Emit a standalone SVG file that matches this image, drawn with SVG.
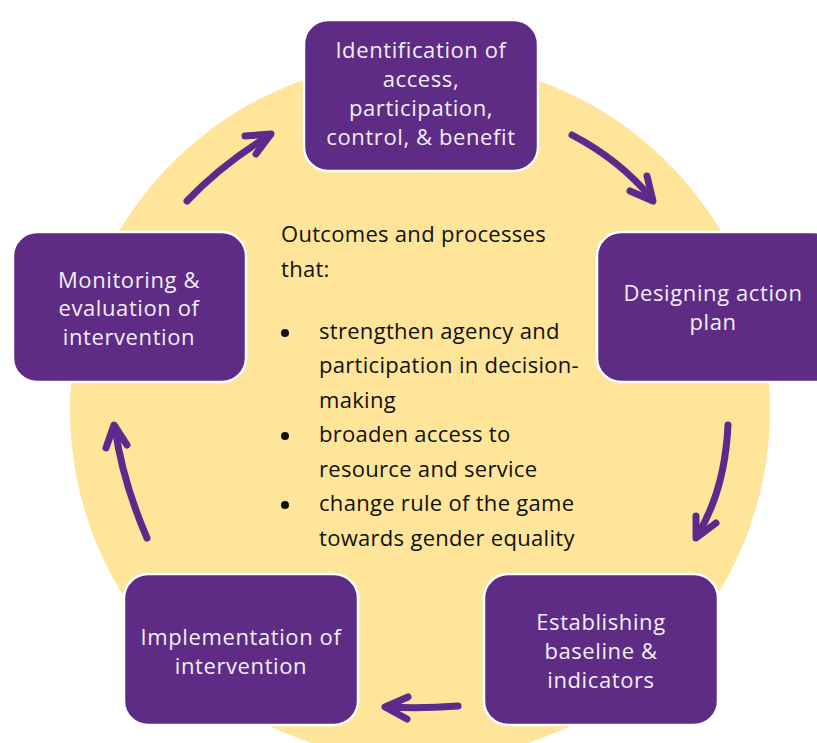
<svg xmlns="http://www.w3.org/2000/svg" width="817" height="743" viewBox="0 0 817 743">
<style>
.box{fill:#5E2C84;stroke:#ffffff;stroke-width:2.5}
.bt{font-family:"Open Sans","Noto Sans",sans-serif;font-size:22px;letter-spacing:0.6px;fill:#F3EEF7;text-anchor:middle}
.ct{font-family:"Open Sans","Noto Sans",sans-serif;font-size:22px;letter-spacing:0.3px;fill:#111111}
.arr{fill:none;stroke:#5B2B8C;stroke-width:7;stroke-linecap:round;stroke-linejoin:round}
</style>
<rect width="817" height="743" fill="#ffffff"/>
<circle cx="420" cy="410" r="350" fill="#FEE59A"/>
<g id="connectors">
<path class="arr" d="M187,201 Q222,164 270,135"/>
<polyline class="arr" points="245,136 271,134 256,154"/>
<path class="arr" d="M572,135 Q620,160 652,199"/>
<polyline class="arr" points="630,191 653,201 647,176"/>
<path class="arr" d="M728,425 Q725,490 697,536"/>
<polyline class="arr" points="696,516 696,538 716,523"/>
<path class="arr" d="M458,706 Q420,709 387,707"/>
<polyline class="arr" points="408,697 385,707 407,719"/>
<path class="arr" d="M147,538 Q122,480 115,427"/>
<polyline class="arr" points="106,448 114,425 127,445"/>
</g>
<g id="center-text" class="ct">
<text x="281" y="242">Outcomes and processes</text>
<text x="281" y="277">that:</text>
<circle cx="285" cy="333" r="4" fill="#111"/>
<text x="319" y="339">strengthen agency and</text>
<text x="319" y="373">participation in decision-</text>
<text x="319" y="408">making</text>
<circle cx="285" cy="436" r="4" fill="#111"/>
<text x="319" y="442">broaden access to</text>
<text x="319" y="477">resource and service</text>
<circle cx="285" cy="505" r="4" fill="#111"/>
<text x="319" y="511">change rule of the game</text>
<text x="319" y="546">towards gender equality</text>
</g>
<g id="node-identification">
<rect class="box" x="304" y="20" width="234" height="151" rx="24"/>
<text class="bt" x="421" y="58">Identification of</text>
<text class="bt" x="421" y="87">access,</text>
<text class="bt" x="421" y="116">participation,</text>
<text class="bt" x="421" y="145">control, &amp; benefit</text>
</g>
<g id="node-designing">
<rect class="box" x="597" y="232" width="240" height="150" rx="24"/>
<text class="bt" x="713" y="301">Designing action</text>
<text class="bt" x="713" y="330">plan</text>
</g>
<g id="node-baseline">
<rect class="box" x="484" y="574" width="234" height="151" rx="24"/>
<text class="bt" x="601" y="630">Establishing</text>
<text class="bt" x="601" y="659">baseline &amp;</text>
<text class="bt" x="601" y="688">indicators</text>
</g>
<g id="node-implementation">
<rect class="box" x="124" y="574" width="234" height="151" rx="24"/>
<text class="bt" x="241" y="645">Implementation of</text>
<text class="bt" x="241" y="674">intervention</text>
</g>
<g id="node-monitoring">
<rect class="box" x="13" y="232" width="233" height="150" rx="24"/>
<text class="bt" x="129" y="288">Monitoring &amp;</text>
<text class="bt" x="129" y="316">evaluation of</text>
<text class="bt" x="129" y="345">intervention</text>
</g>
</svg>
